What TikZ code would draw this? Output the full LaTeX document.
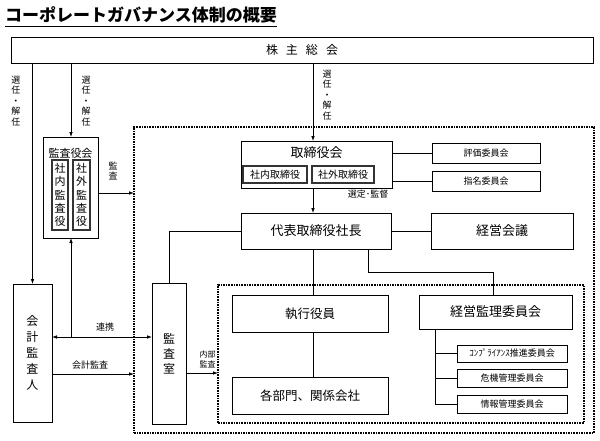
\documentclass[tikz,border=0pt]{standalone}
\usepackage{fontspec}
\setmainfont{Noto Sans CJK JP}
\usetikzlibrary{arrows.meta}
\newcommand{\jsz}[2]{\fontsize{#1}{#2}\selectfont}
\tikzset{
  ln/.style={line width=0.8pt},
  arr/.style={ln, -{Latex[length=5pt,width=3.6pt]}},
  darr/.style={ln, {Latex[length=5pt,width=3.6pt]}-{Latex[length=5pt,width=3.6pt]}},
  box/.style={draw, line width=0.8pt, inner sep=0pt, outer sep=0pt, align=center},
  ibox/.style={draw, line width=1.3pt, draw=black!80, inner sep=0pt, outer sep=0pt, align=center},
  dotbox/.style={draw, line width=1.6pt, densely dotted, inner sep=0pt, outer sep=0pt},
  lbl/.style={inner sep=0pt, align=center, font=\jsz{9}{10.5}},
}
\begin{document}
\begin{tikzpicture}[x=1pt,y=-1pt]
\useasboundingbox (0,0) rectangle (600,440);
% title
\node[anchor=west, inner sep=0pt, font=\jsz{17}{17}\bfseries] (title) at (5,15) {コーポレートガバナンス体制の概要};
\draw[line width=1.2pt] ([yshift=-3pt]title.south west) -- ([yshift=-3pt]title.south east);

% dotted regions
\node[dotbox, minimum width=460, minimum height=306] (outer) at (364,280) {};
\node[dotbox, minimum width=366, minimum height=138] (inner) at (401,354) {};

% shareholders
\node[box, minimum width=582, minimum height=26, font=\jsz{12}{12}] (kab) at (302,50) {株\hspace{8pt}主\hspace{8pt}総\hspace{8pt}会};

% audit board
\node[box, minimum width=55, minimum height=101] (ksyk) at (70.5,187.5) {};
\node[inner sep=0pt, font=\jsz{11}{11}] (ksykt) at (70.5,153) {監査役会};
\node[ibox, minimum width=16, minimum height=70, font=\jsz{11}{13.2}] (shnk) at (60,195) {社\\内\\監\\査\\役};
\node[ibox, minimum width=17, minimum height=70, font=\jsz{11}{13.2}] (shgk) at (81.5,195) {社\\外\\監\\査\\役};

% accounting auditor
\node[box, minimum width=39, minimum height=138, font=\jsz{12}{16}] (kaikei) at (32.5,353) {会\\計\\監\\査\\人};
% audit office
\node[box, minimum width=34, minimum height=141, font=\jsz{12}{15}] (kshitsu) at (169,353.5) {監\\査\\室};

% board of directors
\node[box, minimum width=151, minimum height=47] (tori) at (316.5,164.5) {};
\node[inner sep=0pt, font=\jsz{13}{13}] (torit) at (316.5,153) {取締役会};
\node[ibox, minimum width=64, minimum height=17, font=\jsz{10}{10}] (shnt) at (275,174.5) {社内取締役};
\node[ibox, minimum width=62, minimum height=17, font=\jsz{10}{10}] (shgt) at (343,174.5) {社外取締役};

\node[box, minimum width=108, minimum height=20, font=\jsz{9}{9}] (hyoka) at (486,153) {評価委員会};
\node[box, minimum width=108, minimum height=20, font=\jsz{9}{9}] (shimei) at (486,181) {指名委員会};

\node[box, minimum width=150, minimum height=36, font=\jsz{13}{13}] (daihyo) at (316,231) {代表取締役社長};
\node[box, minimum width=142, minimum height=36, font=\jsz{13}{13}] (kaigi) at (502,231) {経営会議};

\node[box, minimum width=156, minimum height=37, font=\jsz{12.5}{12.5}] (shikko) at (310,313.5) {執行役員};
\node[box, minimum width=156, minimum height=37, font=\jsz{12.5}{12.5}] (bumon) at (310,395.5) {各部門、関係会社};

\node[box, minimum width=153, minimum height=34, font=\jsz{13}{13}] (kanri) at (495.5,312) {経営監理委員会};
\node[box, minimum width=110, minimum height=17, font=\jsz{9}{9}] (comp) at (512,353.5) {ｺﾝﾌﾟﾗｲｱﾝｽ推進委員会};
\node[box, minimum width=110, minimum height=18, font=\jsz{9}{9}] (kiki) at (512,378) {危機管理委員会};
\node[box, minimum width=110, minimum height=18, font=\jsz{9}{9}] (joho) at (512,404) {情報管理委員会};

% coordinates
\coordinate (x32) at (32.5,0);
\coordinate (x71) at (71,0);
\coordinate (x313) at (313,0);
\coordinate (x368) at (368,0);
\coordinate (x493) at (493,0);
\coordinate (x435) at (435,0);
\coordinate (y193) at (0,193);
\coordinate (y337) at (0,337);
\coordinate (y374) at (0,374);
\coordinate (y373) at (0,373);
\coordinate (y272) at (0,272);
\coordinate (y181) at (0,181);
\coordinate (y153) at (0,153);

% election lines
\draw[arr] (kab.south -| x32) -- (kaikei.north -| x32);
\draw[arr] (kab.south -| x71) -- (ksyk.north -| x71);
\draw[arr] (kab.south -| x313) -- (tori.north -| x313);
\node[lbl] (l1) at (16,101) {選\\任\\・\\解\\任};
\node[lbl] (l2) at (86,101) {選\\任\\・\\解\\任};
\node[lbl] (l3) at (327,95) {選\\任\\・\\解\\任};

% audit
\draw[arr] (ksyk.east |- y193) -- (outer.west |- y193);
\node[lbl] (l4) at (113,171) {監\\査};
\draw[arr] (x71 |- y337) -- (ksyk.south -| x71);
\draw[darr] (kaikei.east |- y337) -- (kshitsu.west |- y337);
\node[lbl] (l5) at (105,327) {連携};
\draw[arr] (kaikei.east |- y374) -- (outer.west |- y374);
\node[lbl] (l6) at (90,365) {会計監査};
\draw[arr] (kshitsu.east |- y373) -- (inner.west |- y373);
\node[lbl, font=\jsz{8}{10}] (l7) at (207.5,359) {内部\\監査};
\draw[ln] (kshitsu.north) -- (kshitsu.north |- daihyo.west) -- (daihyo.west);

% board relations
\draw[ln] (tori.east |- y153) -- (hyoka.west);
\draw[ln] (tori.east |- y181) -- (shimei.west);
\draw[arr] (tori.south -| x313) -- (daihyo.north -| x313);
\node[lbl] (l8) at (368,194) {選定･監督};
\draw[ln] (daihyo.east) -- (kaigi.west);
\draw[ln] (daihyo.south -| x313) -- (shikko.north -| x313);
\draw[ln] (shikko.south -| x313) -- (bumon.north -| x313);
\draw[ln] (daihyo.south -| x368) -- (x368 |- y272) -- (x493 |- y272) -- (kanri.north -| x493);
\draw[ln] (kanri.south -| x435) -- (x435 |- joho.west) -- (joho.west);
\draw[ln] (x435 |- comp.west) -- (comp.west);
\draw[ln] (x435 |- kiki.west) -- (kiki.west);
\end{tikzpicture}
\end{document}
